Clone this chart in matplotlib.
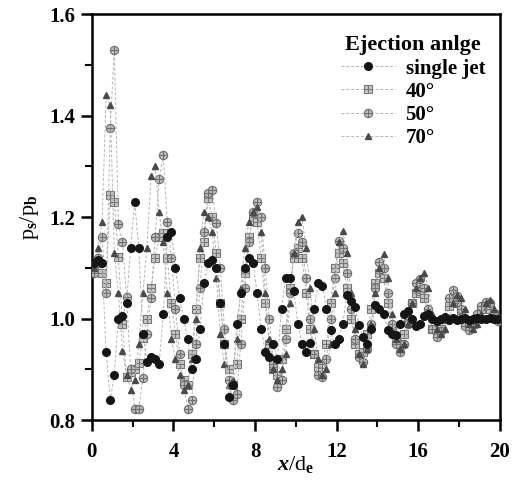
import matplotlib
matplotlib.use("Agg")
import matplotlib.pyplot as plt
from matplotlib.legend_handler import HandlerTuple
from matplotlib.ticker import MultipleLocator

# positions des prises de pression (x/de)
x_pos = [0.1, 0.3, 0.5, 0.7, 0.9, 1.1, 1.3, 1.5, 1.7, 1.9,
         2.1, 2.3, 2.5, 2.7, 2.9, 3.1, 3.3, 3.5, 3.7, 3.9,
         4.1, 4.3, 4.5, 4.7, 4.9, 5.1, 5.3, 5.5, 5.7, 5.9,
         6.1, 6.3, 6.5, 6.7, 6.9, 7.1, 7.3, 7.5, 7.7, 7.9,
         8.1, 8.3, 8.5, 8.7, 8.9, 9.1, 9.3, 9.5, 9.7, 9.9,
         10.1, 10.3, 10.5, 10.7, 10.9, 11.1, 11.3, 11.5, 11.7, 11.9,
         12.1, 12.3, 12.5, 12.7, 12.9, 13.1, 13.3, 13.5, 13.7, 13.9,
         14.1, 14.3, 14.5, 14.7, 14.9, 15.1, 15.3, 15.5, 15.7, 15.9,
         16.1, 16.3, 16.5, 16.7, 16.9, 17.1, 17.3, 17.5, 17.7, 17.9,
         18.1, 18.3, 18.5, 18.7, 18.9, 19.1, 19.3, 19.5, 19.7, 19.9]

single_jet = [1.11, 1.115, 1.11, 0.935, 0.84, 0.89, 1.00, 1.005, 1.03, 1.14,
              1.23, 1.14, 0.97, 0.915, 0.925, 0.92, 0.91, 1.01, 1.16, 1.17,
              1.10, 1.04, 1.00, 0.96, 0.90, 0.92, 0.98, 1.07, 1.11, 1.115,
              1.10, 1.03, 0.95, 0.846, 0.87, 0.99, 1.05, 1.10, 1.12, 1.11,
              1.05, 0.98, 0.935, 0.925, 0.95, 0.92, 1.02, 1.08, 1.08, 1.055,
              0.99, 0.95, 0.935, 0.953, 1.02, 1.07, 1.064, 1.02, 0.977, 0.95,
              0.96, 0.99, 1.046, 1.035, 1.023, 0.987, 0.964, 0.951, 0.98, 1.027,
              1.02, 1.01, 0.977, 0.97, 0.967, 0.99, 1.01, 1.015, 1.00, 0.985,
              0.99, 1.005, 1.01, 1.00, 0.995, 1.00, 1.003, 0.998, 1.002, 0.997,
              1.00, 1.002, 0.998, 1.00, 1.001, 0.999, 1.00, 1.002, 0.999, 1.00]

deg40 = [1.10, 1.11, 1.09, 1.07, 1.243, 1.23, 1.121, 0.99, 0.885, 0.895,
         0.90, 0.913, 0.962, 1.00, 1.06, 1.12, 1.16, 1.168, 1.12, 1.03,
         0.97, 0.91, 0.88, 0.87, 0.93, 1.02, 1.12, 1.15, 1.237, 1.20,
         1.13, 1.03, 0.95, 0.90, 0.87, 0.91, 1.00, 1.09, 1.16, 1.20,
         1.19, 1.12, 1.03, 0.95, 0.90, 0.89, 0.92, 0.98, 1.06, 1.12,
         1.14, 1.12, 1.05, 0.98, 0.93, 0.905, 0.91, 0.95, 1.03, 1.10,
         1.13, 1.11, 1.06, 1.00, 0.95, 0.93, 0.935, 0.97, 1.02, 1.07,
         1.09, 1.08, 1.03, 0.98, 0.955, 0.95, 0.97, 1.00, 1.03, 1.05,
         1.055, 1.04, 1.01, 0.98, 0.97, 0.98, 1.00, 1.025, 1.035, 1.03,
         1.01, 0.99, 0.985, 0.99, 1.005, 1.02, 1.025, 1.02, 1.01, 1.00]

deg50 = [1.09, 1.12, 1.16, 1.05, 1.375, 1.53, 1.186, 1.151, 1.043, 0.90,
         0.823, 0.823, 0.883, 0.97, 1.04, 1.16, 1.275, 1.322, 1.19, 1.12,
         1.02, 0.93, 0.87, 0.823, 0.84, 0.95, 1.06, 1.17, 1.247, 1.253,
         1.189, 1.10, 0.98, 0.88, 0.84, 0.852, 0.95, 1.06, 1.15, 1.21,
         1.23, 1.20, 1.10, 1.00, 0.91, 0.866, 0.88, 0.96, 1.05, 1.13,
         1.168, 1.15, 1.08, 1.00, 0.93, 0.89, 0.885, 0.92, 1.00, 1.08,
         1.152, 1.14, 1.09, 1.02, 0.96, 0.925, 0.915, 0.94, 0.99, 1.06,
         1.112, 1.10, 1.05, 0.99, 0.95, 0.935, 0.95, 0.99, 1.03, 1.07,
         1.079, 1.06, 1.02, 0.98, 0.964, 0.975, 1.00, 1.04, 1.056, 1.045,
         1.02, 0.985, 0.977, 0.99, 1.01, 1.025, 1.033, 1.03, 1.01, 0.995]

deg70 = [1.10, 1.14, 1.19, 1.44, 1.42, 1.13, 1.05, 0.936, 0.89, 0.86,
         0.88, 0.95, 1.05, 1.14, 1.28, 1.30, 1.21, 1.15, 1.05, 0.96,
         0.92, 0.89, 0.86, 0.87, 0.92, 1.00, 1.14, 1.21, 1.20, 1.17,
         1.08, 0.97, 0.91, 0.87, 0.88, 0.96, 1.06, 1.14, 1.19, 1.21,
         1.22, 1.17, 1.05, 0.96, 0.90, 0.88, 0.90, 0.93, 1.03, 1.13,
         1.19, 1.20, 1.14, 1.06, 0.98, 0.92, 0.89, 0.90, 0.95, 1.05,
         1.15, 1.173, 1.13, 1.05, 0.98, 0.93, 0.91, 0.94, 0.99, 1.05,
         1.10, 1.127, 1.08, 1.01, 0.96, 0.94, 0.95, 0.99, 1.03, 1.06,
         1.08, 1.09, 1.06, 1.01, 0.98, 0.97, 0.98, 1.00, 1.03, 1.046,
         1.04, 1.02, 0.99, 0.98, 0.99, 1.01, 1.03, 1.036, 1.02, 1.00]

plt.rcParams['font.family'] = ['Liberation Serif', 'DejaVu Serif']
plt.rcParams['font.weight'] = 'bold'
plt.rcParams['mathtext.fontset'] = 'custom'
plt.rcParams['mathtext.rm'] = 'Liberation Serif:bold'
plt.rcParams['mathtext.it'] = 'Liberation Serif:bold:italic'

fig = plt.figure(figsize=(5.19, 4.83), dpi=100)
ax = fig.add_axes([0.177, 0.130, 0.786, 0.841])

ligne = dict(color='#b5b5b5', lw=0.7, ls=(0, (3, 2)))

l_sj, = ax.plot(x_pos, single_jet, marker='o', ms=5.5, mfc='#151515',
                mec='#151515', zorder=5, **ligne)
l_40a, = ax.plot(x_pos, deg40, marker='s', ms=5.5, mfc='#c8c8c8',
                 mec='#777777', mew=0.8, zorder=3, **ligne)
l_40b, = ax.plot(x_pos, deg40, marker='+', ms=5.5, mec='#777777',
                 mew=0.8, ls='none', zorder=3)
l_50a, = ax.plot(x_pos, deg50, marker='o', ms=6, mfc='#bdbdbd',
                 mec='#6f6f6f', mew=0.8, zorder=4, **ligne)
l_50b, = ax.plot(x_pos, deg50, marker='+', ms=6, mec='#6f6f6f',
                 mew=0.8, ls='none', zorder=4)
l_70, = ax.plot(x_pos, deg70, marker='^', ms=5, mfc='#4a4a4a',
                mec='#4a4a4a', zorder=4, **ligne)

ax.set_xlim(0, 20)
ax.set_ylim(0.8, 1.6)
ax.xaxis.set_major_locator(MultipleLocator(4))
ax.xaxis.set_minor_locator(MultipleLocator(2))
ax.yaxis.set_major_locator(MultipleLocator(0.2))
ax.yaxis.set_minor_locator(MultipleLocator(0.1))
ax.yaxis.set_major_formatter(matplotlib.ticker.FormatStrFormatter('%.1f'))

for s in ax.spines.values():
    s.set_linewidth(1.8)
ax.tick_params(which='major', direction='out', length=8, width=1.8,
               labelsize=15, pad=4)
ax.tick_params(which='minor', direction='out', length=5, width=1.5)
ax.tick_params(axis='x', which='major', pad=8)

ax.set_xlabel(r'$\mathit{x}$/d$_\mathrm{e}$', fontsize=16, labelpad=-6)
ax.set_ylabel(r'p$_\mathrm{s}$/p$_\mathrm{b}$', fontsize=16, labelpad=6)

leg = ax.legend([l_sj, (l_40a, l_40b), (l_50a, l_50b), l_70],
                ['single jet', '40°', '50°', '70°'],
                handler_map={tuple: HandlerTuple(ndivide=1)},
                title='Ejection anlge', loc='upper right',
                bbox_to_anchor=(1.0, 0.983), frameon=False,
                fontsize=15, title_fontsize=16, handlelength=2.6,
                labelspacing=0.15, borderaxespad=0.4, handletextpad=0.5,
                borderpad=0.3)
leg.get_title().set_fontweight('bold')

fig.savefig('out.png', dpi=100)
